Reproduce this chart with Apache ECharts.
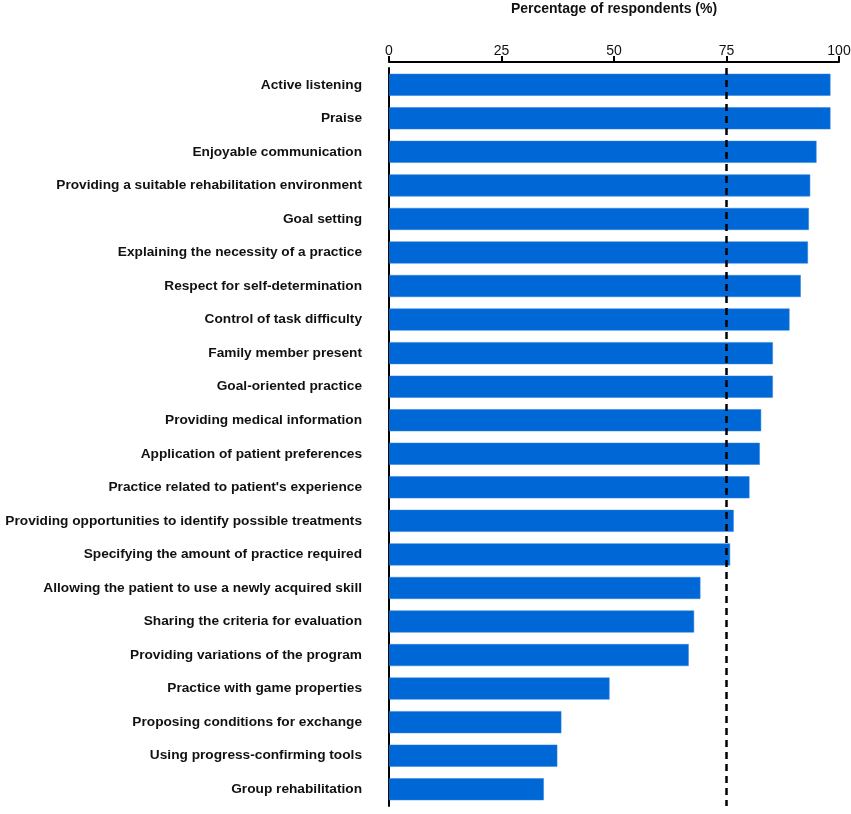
<!DOCTYPE html>
<html>
<head>
<meta charset="utf-8">
<script src="https://cdn.jsdelivr.net/npm/echarts@6/dist/echarts.min.js"></script>
<style>
  html, body { margin: 0; padding: 0; background: #fff; }
  #chart { width: 851px; height: 814px; }
</style>
</head>
<body>
<div id="chart"></div>
<script>
let chart = echarts.init(document.getElementById('chart'));

// strategies, top to bottom as in the figure
let strategies = [
    'Active listening',
    'Praise',
    'Enjoyable communication',
    'Providing a suitable rehabilitation environment',
    'Goal setting',
    'Explaining the necessity of a practice',
    'Respect for self-determination',
    'Control of task difficulty',
    'Family member present',
    'Goal-oriented practice',
    'Providing medical information',
    'Application of patient preferences',
    "Practice related to patient's experience",
    'Providing opportunities to identify possible treatments',
    'Specifying the amount of practice required',
    'Allowing the patient to use a newly acquired skill',
    'Sharing the criteria for evaluation',
    'Providing variations of the program',
    'Practice with game properties',
    'Proposing conditions for exchange',
    'Using progress-confirming tools',
    'Group rehabilitation'
]
let percentages = [98.1, 98.1, 95.0, 93.6, 93.3, 93.1, 91.5, 89.0, 85.3, 85.3, 82.7, 82.4,
    80.1, 76.6, 75.8, 69.2, 67.8, 66.6, 49.0, 38.3, 37.4, 34.4]
let xTicks = [0, 25, 50, 75, 100]
let cutoff = 75

let font = 'Liberation Sans, Arial, sans-serif'

option = {
    animation: false,
    grid: {
        left: 389,
        right: 12,
        top: 68,
        bottom: 8,
        outerBoundsMode: 'none'
    },
    xAxis: {
        type: 'value',
        position: 'top',
        offset: 6,
        min: xTicks[0],
        max: xTicks[xTicks.length - 1],
        interval: 25,
        name: 'Percentage of respondents (%)',
        nameLocation: 'middle',
        nameGap: 46,
        nameTextStyle: {
            color: '#111',
            fontFamily: font,
            fontWeight: 'bold',
            fontSize: 14
        },
        axisLine: { show: true, lineStyle: { color: '#000', width: 2 } },
        axisTick: { show: true, inside: false, length: 6, lineStyle: { color: '#000', width: 2 } },
        axisLabel: {
            color: '#111',
            fontFamily: font,
            fontSize: 14,
            margin: 4
        },
        splitLine: { show: false }
    },
    yAxis: {
        type: 'category',
        inverse: true,
        data: strategies,
        axisLine: { show: true, lineStyle: { color: '#000', width: 2 } },
        axisTick: { show: false },
        axisLabel: {
            color: '#111',
            fontFamily: font,
            fontWeight: 'bold',
            fontSize: 13.7,
            margin: 27
        }
    },
    series: [
        {
            type: 'bar',
            data: percentages,
            barWidth: 22,
            itemStyle: {
                color: '#0068d6',
                borderColor: '#2a7fe0',
                borderWidth: 0.5
            },
            markLine: {
                silent: true,
                symbol: 'none',
                label: { show: false },
                lineStyle: { color: '#000', type: [7, 5], width: 2.5 },
                data: [{ xAxis: cutoff }]
            }
        }
    ]
};
chart.setOption(option);
</script>
</body>
</html>
